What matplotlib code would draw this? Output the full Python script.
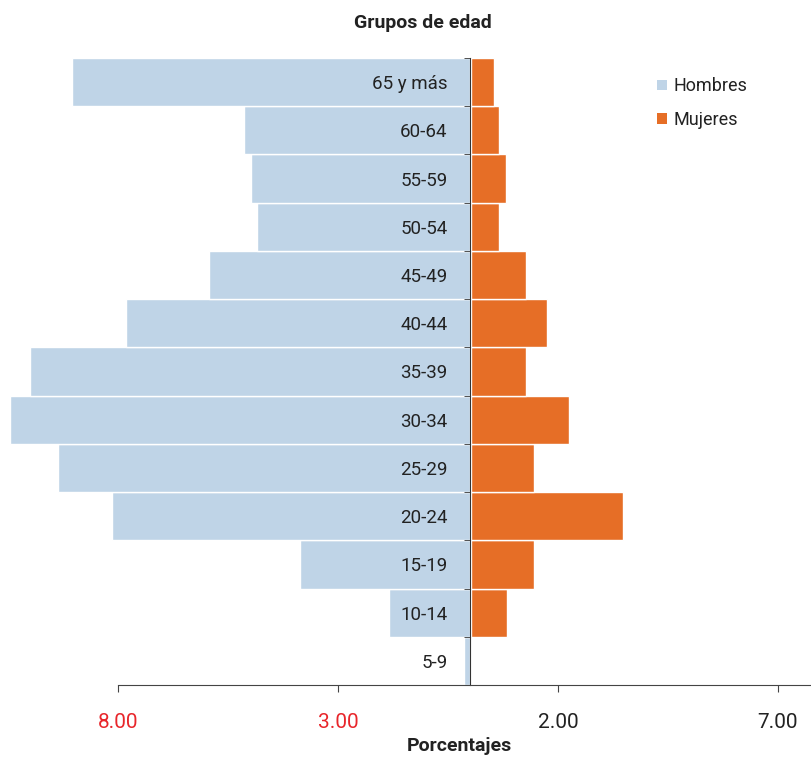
import matplotlib
matplotlib.use("Agg")
import matplotlib.pyplot as plt
from matplotlib.patches import Patch

plt.rcParams['font.family'] = ['Roboto', 'DejaVu Sans']

grupos = ["5-9", "10-14", "15-19", "20-24", "25-29", "30-34", "35-39",
          "40-44", "45-49", "50-54", "55-59", "60-64", "65 y más"]
hombres = [0.14, 1.84, 3.86, 8.14, 9.36, 10.45, 10.0, 7.82, 5.93, 4.84, 4.98, 5.14, 9.05]
mujeres = [0.0, 0.82, 1.43, 3.45, 1.43, 2.23, 1.25, 1.73, 1.25, 0.64, 0.80, 0.64, 0.52]
ticks_x = [-8, -3, 2, 7]

azul = "#bfd4e7"
naranja = "#e66e26"

fig = plt.figure(figsize=(8.11, 7.57), dpi=100)
ax = fig.add_axes([0, 1 - 685 / 757, 1, (685 - 58) / 757])

y = list(range(len(grupos)))
ax.barh(y, [-h for h in hombres], height=1.0, color=azul, edgecolor="white", linewidth=1)
ax.barh(y, mujeres, height=1.0, left=0.03, color=naranja, edgecolor="white", linewidth=1)

ax.set_xlim(-10.68, 7.75)
ax.set_ylim(-0.5, 12.5)

for s in ["top", "right"]:
    ax.spines[s].set_visible(False)
ax.spines["left"].set_position(("data", 0))
ax.spines["left"].set_color("#333333")
ax.spines["bottom"].set_color("#444444")
ax.spines["bottom"].set_bounds(-8, 7.75)

# etiquetas de grupos
ax.set_yticks(y)
ax.set_yticklabels(grupos)
ax.tick_params(axis="y", length=0, pad=16, labelsize=13.5, labelcolor="#222222")
ax.set_yticks([i - 0.5 for i in range(len(grupos) + 1)], minor=True)
ax.tick_params(axis="y", which="minor", length=4, direction="out", color="#333333")

ax.set_xticks(ticks_x)
ax.set_xticklabels(["%.2f" % abs(t) for t in ticks_x])
ax.tick_params(axis="x", length=5, pad=15, labelsize=15, color="#444444")
for lab, t in zip(ax.get_xticklabels(), ticks_x):
    lab.set_color("#e8262b" if t < 0 else "#222222")

fig.text(0.521, 1 - 23 / 757, "Grupos de edad", ha="center", va="center",
         fontsize=14, fontweight="bold", color="#222222")
fig.text(0.567, 1 - 746 / 757, "Porcentajes", ha="center", va="center",
         fontsize=14, fontweight="bold", color="#222222")

handles = [Patch(facecolor=azul, label="Hombres"), Patch(facecolor=naranja, label="Mujeres")]
ax.legend(handles=handles, loc="upper left", bbox_to_anchor=(0.79, 0.995), frameon=False,
          fontsize=13, handlelength=0.55, handleheight=0.55, handletextpad=0.35,
          labelspacing=0.85, labelcolor="#222222")

fig.savefig("out.png", dpi=100)
